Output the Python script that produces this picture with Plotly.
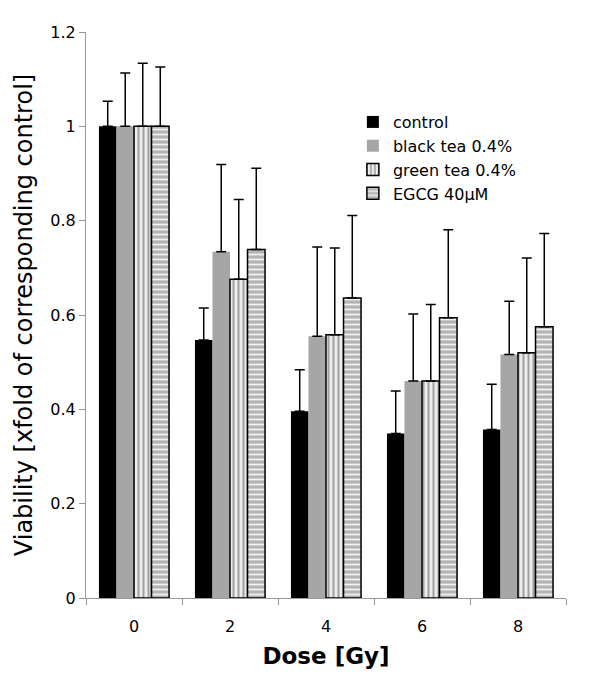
import plotly.graph_objects as go

doses = ["0", "2", "4", "6", "8"]
series_names = ["control", "black tea 0.4%", "green tea 0.4%", "EGCG 40µM"]

control = [1.0, 0.547, 0.396, 0.349, 0.357]
control_err = [0.053, 0.068, 0.088, 0.090, 0.096]
black_tea = [1.0, 0.734, 0.555, 0.460, 0.516]
black_tea_err = [0.113, 0.185, 0.189, 0.142, 0.113]
green_tea = [1.0, 0.676, 0.558, 0.460, 0.520]
green_tea_err = [0.134, 0.169, 0.184, 0.162, 0.201]
egcg = [1.0, 0.739, 0.636, 0.594, 0.575]
egcg_err = [0.126, 0.172, 0.175, 0.187, 0.198]

y_ticks = [0, 0.2, 0.4, 0.6, 0.8, 1.0, 1.2]
y_tick_text = ["0", "0.2", "0.4", "0.6", "0.8", "1", "1.2"]

FONT = "DejaVu Sans, Verdana, sans-serif"

def err(arr):
    return dict(type="data", array=arr, arrayminus=[0] * len(arr), symmetric=False,
                color="black", thickness=1.5, width=5)

fig = go.Figure()
fig.add_trace(go.Bar(x=doses, y=control, name=series_names[0], error_y=err(control_err),
                     marker=dict(color="black", line=dict(width=0))))
fig.add_trace(go.Bar(x=doses, y=black_tea, name=series_names[1], error_y=err(black_tea_err),
                     marker=dict(color="#a6a6a6", line=dict(width=0))))
fig.add_trace(go.Bar(x=doses, y=green_tea, name=series_names[2], error_y=err(green_tea_err),
                     marker=dict(color="#e6e6e6", line=dict(color="black", width=1.5),
                                 pattern=dict(shape="|", fgcolor="#a0a0a0", bgcolor="#ececec",
                                              size=5, solidity=0.4, fillmode="replace"))))
fig.add_trace(go.Bar(x=doses, y=egcg, name=series_names[3], error_y=err(egcg_err),
                     marker=dict(color="#c4c4c4", line=dict(color="black", width=1.5),
                                 pattern=dict(shape="-", fgcolor="#f2f2f2", bgcolor="#b4b4b4",
                                              size=5, solidity=0.35, fillmode="replace"))))

fig.update_layout(
    width=600, height=687,
    margin=dict(l=78, r=42, t=24, b=97),
    paper_bgcolor="white", plot_bgcolor="white",
    barmode="group", bargap=0.27, bargroupgap=0,
    font=dict(family=FONT, size=16, color="black"),
    showlegend=True,
    legend=dict(x=0.556, y=0.871, xanchor="left", yanchor="top",
                font=dict(family=FONT, size=16), tracegroupgap=4,
                bgcolor="rgba(0,0,0,0)"),
    xaxis=dict(
        type="category", showline=True, linecolor="#999999", linewidth=1,
        ticks="outside", ticklen=6, tickcolor="#999999", tickson="boundaries",
        showgrid=False, zeroline=False, automargin=False,
        ticklabelstandoff=14,
        tickfont=dict(family=FONT, size=16),
        title=dict(text="<b>Dose [Gy]</b>", font=dict(family=FONT, size=23), standoff=12),
    ),
    yaxis=dict(
        range=[0, 1.2], tickvals=y_ticks, ticktext=y_tick_text,
        showline=True, linecolor="#999999", linewidth=1,
        ticks="outside", ticklen=6, tickcolor="#999999",
        showgrid=False, zeroline=False, automargin=False,
        tickfont=dict(family=FONT, size=16),
        title=dict(text="Viability [xfold of corresponding control]",
                   font=dict(family=FONT, size=24), standoff=10),
    ),
)

fig.write_html("out.html")
